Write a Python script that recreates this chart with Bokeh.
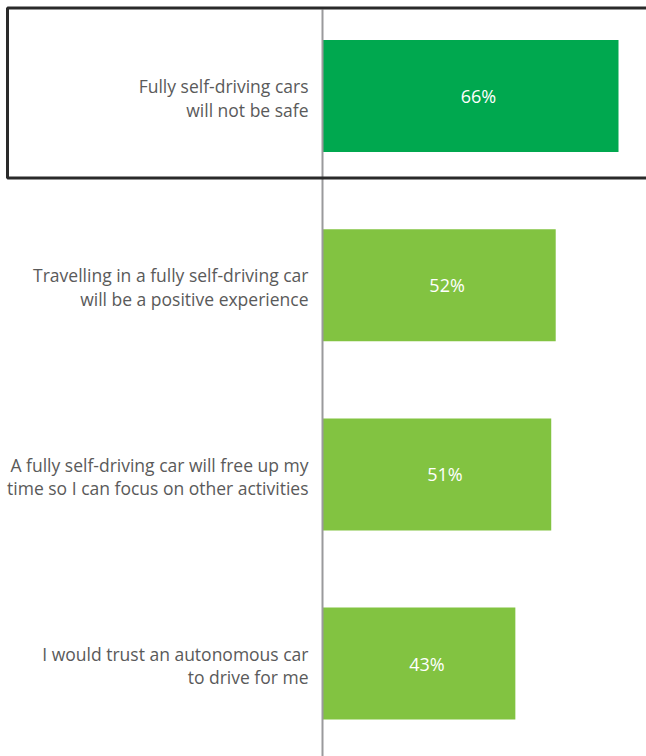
from bokeh.plotting import figure
from bokeh.models import ColumnDataSource, Range1d, BoxAnnotation
from bokeh.core.properties import value
from bokeh.embed import file_html
from bokeh.resources import INLINE

categories = [
    "Fully self-driving cars\nwill not be safe",
    "Travelling in a fully self-driving car\nwill be a positive experience",
    "A fully self-driving car will free up my\ntime so I can focus on other activities",
    "I would trust an autonomous car\nto drive for me",
]
values = [66, 52, 51, 43]
colors = ["#00A84F", "#82C341", "#82C341", "#82C341"]
labels = [f"{v}%" for v in values]

W, H = 646, 756
px_per_unit = 296 / 66.0
x_start = -322 / px_per_unit
x_end = (W - 322) / px_per_unit
spacing = 189.2
y_top = -95.5 / spacing
y_bot = (H - 95.5) / spacing

ypos = list(range(len(values)))
src = ColumnDataSource(dict(
    y=ypos, v=values, half=[v / 2 for v in values], c=colors,
    lab=labels, cat=categories,
))

p = figure(width=W, height=H, output_backend="svg", toolbar_location=None,
           x_range=Range1d(x_start, x_end), y_range=Range1d(y_bot, y_top),
           min_border=0, outline_line_color=None)
p.axis.visible = False
p.grid.visible = False
p.background_fill_color = "white"
p.border_fill_color = "white"

p.hbar(y="y", left=0, right="v", height=112 / spacing, fill_color="c",
       line_color=None, source=src)

# vertical baseline
p.segment(x0=[0], y0=[(9 - 95.5) / spacing], x1=[0], y1=[y_bot + 0.1],
          line_color="#9a9a9c", line_width=2)

# highlight box around first category
box = BoxAnnotation(left=(7 - 322) / px_per_unit, right=x_end + 5,
                    top=(7.5 - 95.5) / spacing, bottom=(177.5 - 95.5) / spacing,
                    fill_alpha=0, line_color="#2a2a2a", line_alpha=1.0,
                    line_width=3)
p.add_layout(box)

p.text(x="half", y="y", text="lab", source=src, text_color="white",
       text_font=value("Open Sans"), text_font_size="18px",
       text_align="center", text_baseline="middle", x_offset=8)

p.text(x=0, y="y", text="cat", source=src, text_color="#5a5a5a",
       text_font=value("Open Sans"), text_font_size="17.5px",
       text_align="right", text_baseline="middle", x_offset=-14, y_offset=2,
       text_line_height=0.98)

open("out.html", "w").write(file_html(p, INLINE))
